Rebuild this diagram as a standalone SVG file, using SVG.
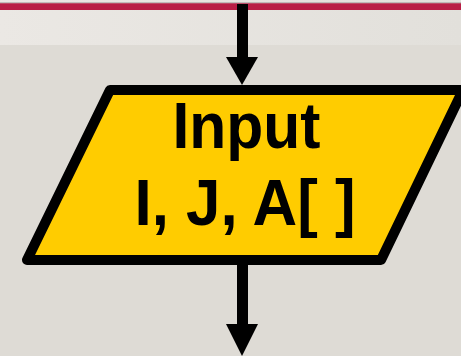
<svg xmlns="http://www.w3.org/2000/svg" width="461" height="356" viewBox="0 0 461 356">
  <defs>
    <linearGradient id="band" x1="0" y1="0" x2="1" y2="0">
      <stop offset="0" stop-color="#EBE8E4"/>
      <stop offset="1" stop-color="#E2E0DB"/>
    </linearGradient>
    <style>
      .flow { fill: #000; }
      .shape { fill: #FFCC00; stroke: #000; stroke-width: 10; stroke-linejoin: round; }
      .label { font-family: "Liberation Sans", Arial, sans-serif; font-weight: bold; font-size: 64px; fill: #000; text-anchor: middle; }
    </style>
  </defs>

  <!-- page background -->
  <rect x="0" y="0" width="461" height="356" fill="#DEDBD5"/>
  <rect x="0" y="0" width="461" height="45" fill="url(#band)"/>
  <rect x="0" y="2.5" width="461" height="1" fill="#9A8F8F"/>
  <rect x="0" y="3.3" width="461" height="6.7" fill="#B91E45"/>

  <!-- connectors -->
  <g id="connectors">
    <rect class="flow" x="237" y="4" width="11" height="55"/>
    <polygon class="flow" points="226,57 258,57 242,85"/>
    <rect class="flow" x="237" y="262" width="11" height="64"/>
    <polygon class="flow" points="226,324 258,324 242,356"/>
  </g>

  <!-- input node -->
  <g id="input">
    <polygon class="shape" points="110,90 463,90 381,260 27,260"/>
    <text class="label" x="246.5" y="148" textLength="148" lengthAdjust="spacingAndGlyphs">Input</text>
    <text class="label" x="245" y="225" textLength="221" lengthAdjust="spacingAndGlyphs">I, J, A[ ]</text>
  </g>
</svg>
